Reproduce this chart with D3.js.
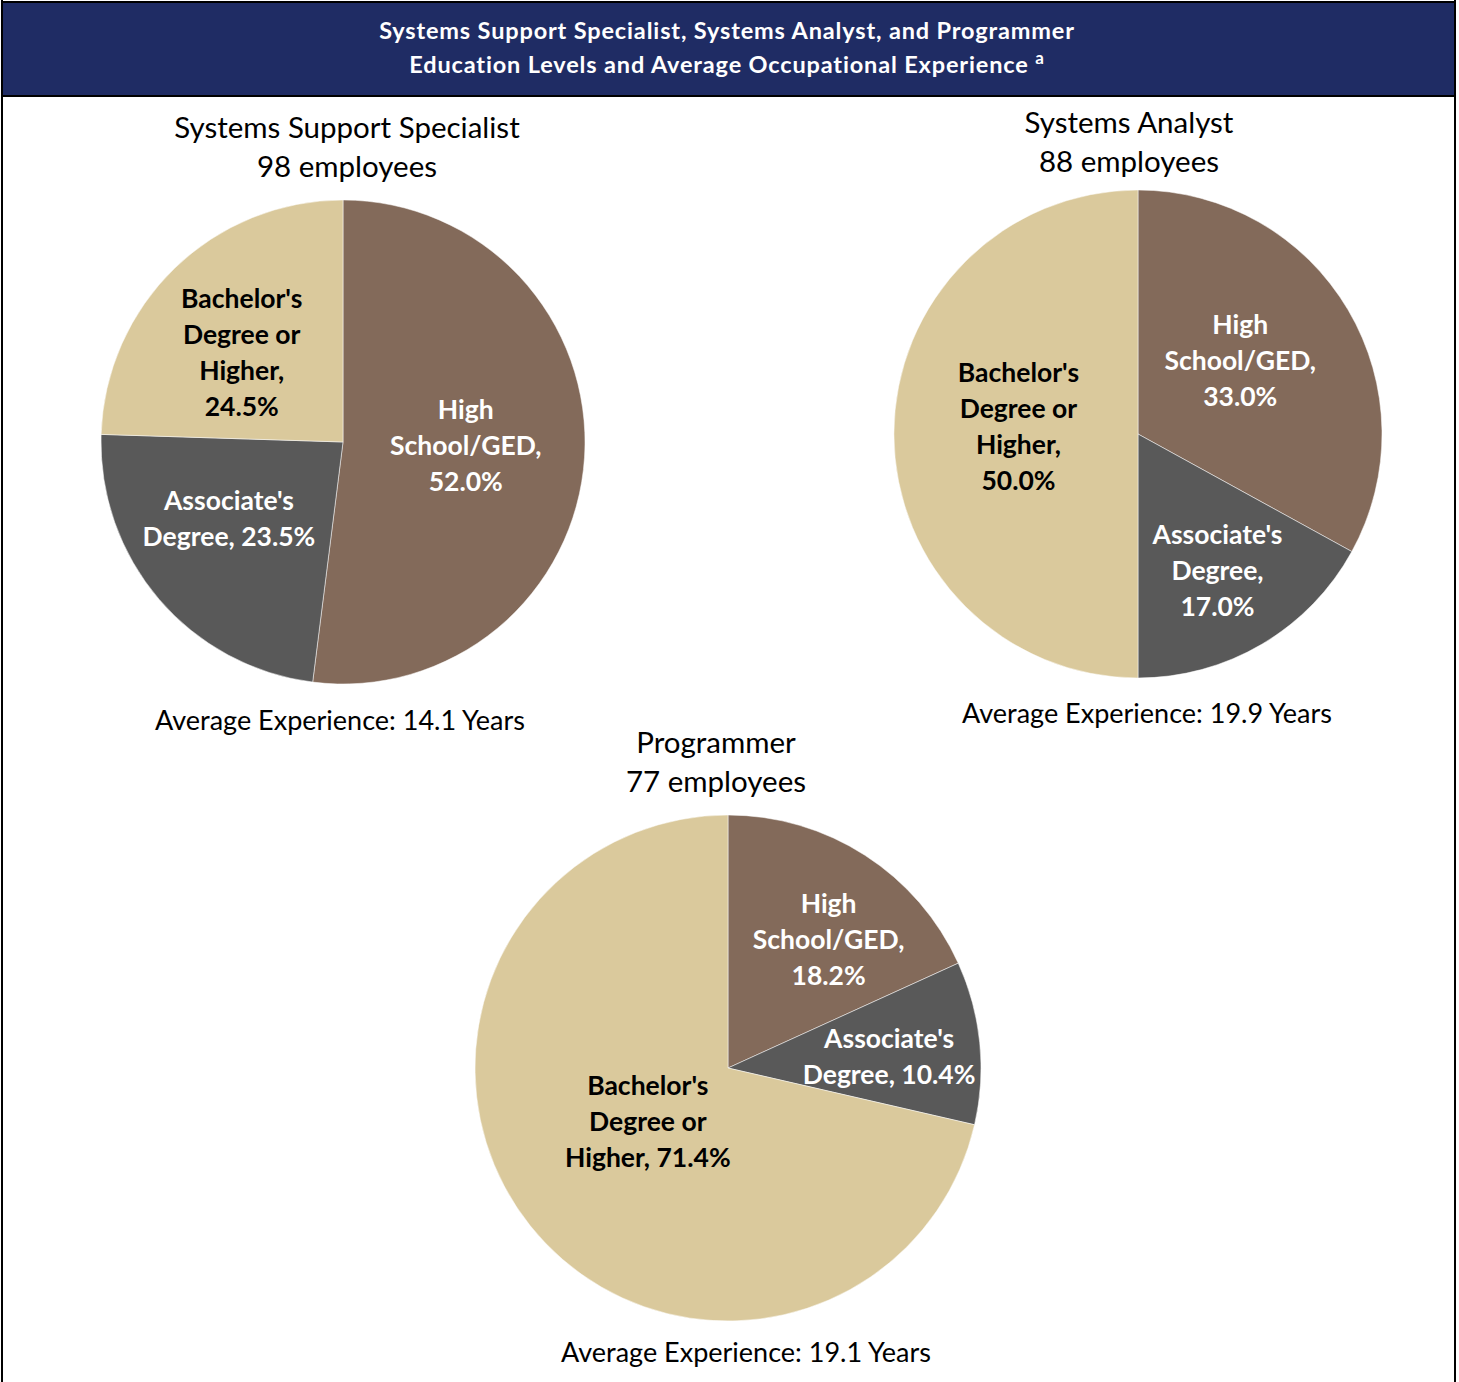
<!DOCTYPE html>
<html><head><meta charset="utf-8">
<script src="https://cdn.jsdelivr.net/npm/d3@7/dist/d3.min.js"></script>
<style>body{margin:0;background:#fff}svg{display:block}</style>
</head><body>
<svg id="chart" width="1459" height="1382"></svg>
<script>
// ---- data ----
const titleLines = ["Systems Support Specialist, Systems Analyst, and Programmer", "Education Levels and Average Occupational Experience"];
const categories = ["High School/GED", "Associate's Degree", "Bachelor's Degree or Higher"];
const occupations = ["Systems Support Specialist", "Systems Analyst", "Programmer"];
const employees = [98, 88, 77];
const avgExperience = [14.1, 19.9, 19.1];
const specialistValues = [52.0, 23.5, 24.5];
const analystValues = [33.0, 17.0, 50.0];
const programmerValues = [18.2, 10.4, 71.4];
// label text wrapping for each slice (text only)
const specialistLabels = [["High", "School/GED,", "52.0%"], ["Associate's", "Degree, 23.5%"], ["Bachelor's", "Degree or", "Higher,", "24.5%"]];
const analystLabels = [["High", "School/GED,", "33.0%"], ["Associate's", "Degree,", "17.0%"], ["Bachelor's", "Degree or", "Higher,", "50.0%"]];
const programmerLabels = [["High", "School/GED,", "18.2%"], ["Associate's", "Degree, 10.4%"], ["Bachelor's", "Degree or", "Higher, 71.4%"]];

// ---- style / layout ----
const colors = ["#836a5a", "#595959", "#dac99c"];
const textColors = ["#ffffff", "#ffffff", "#000000"];
const FONT = "Lato, 'Open Sans', sans-serif";
const layout = [
  {cx: 343, cy: 442, r: 242, titleX: 347, titleY: 128, avgX: 340, avgY: 721, labelR: [0.50, 0.56, 0.56], nudge: [[2, -4], [-11, -11], [-7, 8]]},
  {cx: 1138, cy: 434, r: 244, titleX: 1129, titleY: 123, avgX: 1147, avgY: 714, labelR: [0.52, 0.64, 0.49], nudge: [[-7, -9], [0, 2], [0, -7]]},
  {cx: 728, cy: 1068, r: 253, titleX: 716, titleY: 743, avgX: 746, avgY: 1353, labelR: [0.64, 0.64, 0.38], nudge: [[13, 8], [0, 5], [-5, -6]]}
];
const seriesValues = [specialistValues, analystValues, programmerValues];
const seriesLabels = [specialistLabels, analystLabels, programmerLabels];

const svg = d3.select("#chart");

// outer frame
svg.append("line").attr("x1", 2).attr("x2", 2).attr("y1", 0).attr("y2", 1382).attr("stroke", "#000").attr("stroke-width", 2);
svg.append("line").attr("x1", 1455).attr("x2", 1455).attr("y1", 0).attr("y2", 1382).attr("stroke", "#000").attr("stroke-width", 2);

// header
svg.append("rect").attr("x", 2).attr("y", 2).attr("width", 1453).attr("height", 94)
  .attr("fill", "#1f2c64").attr("stroke", "#000").attr("stroke-width", 2);
const hdr = svg.append("g").attr("font-family", FONT).attr("font-weight", "bold").attr("font-size", 23.5)
  .attr("letter-spacing", 0.85).attr("fill", "#fff").attr("text-anchor", "middle");
hdr.append("text").attr("x", 727).attr("y", 31).attr("dy", "0.35em").text(titleLines[0]);
const t2 = hdr.append("text").attr("x", 727).attr("y", 65).attr("dy", "0.35em");
t2.append("tspan").text(titleLines[1] + " ");
t2.append("tspan").attr("font-size", 17).attr("dy", "-0.55em").text("a");

const pie = d3.pie().sort(null).value(d => d);

seriesValues.forEach((vals, i) => {
  const L = layout[i];
  const g = svg.append("g").attr("transform", `translate(${L.cx},${L.cy})`);
  const arc = d3.arc().innerRadius(0).outerRadius(L.r);
  const arcs = pie(vals);
  g.selectAll("path").data(arcs).join("path")
    .attr("d", arc).attr("fill", (d, j) => colors[j])
    .attr("stroke", "#ffffff").attr("stroke-width", 0.5);

  // labels
  arcs.forEach((d, j) => {
    const lr = L.r * L.labelR[j];
    const a = (d.startAngle + d.endAngle) / 2;
    const x = Math.sin(a) * lr + L.nudge[j][0], y = -Math.cos(a) * lr + L.nudge[j][1];
    const lines = seriesLabels[i][j];
    const lh = 36;
    const t = g.append("text").attr("text-anchor", "middle").attr("font-family", FONT)
      .attr("font-weight", "bold").attr("font-size", 26.5).attr("fill", textColors[j]);
    lines.forEach((ln, k) => {
      t.append("tspan").attr("x", x).attr("y", y + (k - (lines.length - 1) / 2) * lh).attr("dy", "0.35em").text(ln);
    });
  });

  // titles
  const tt = svg.append("text").attr("text-anchor", "middle").attr("font-family", FONT).attr("font-size", 29.5).attr("fill", "#000");
  tt.append("tspan").attr("x", L.titleX).attr("y", L.titleY).attr("dy", "0.35em").text(occupations[i]);
  tt.append("tspan").attr("x", L.titleX).attr("y", L.titleY + 39).attr("dy", "0.35em").text(employees[i] + " employees");

  svg.append("text").attr("text-anchor", "middle").attr("font-family", FONT).attr("font-size", 27).attr("fill", "#000")
    .attr("x", L.avgX).attr("y", L.avgY).attr("dy", "0.35em").text(`Average Experience: ${avgExperience[i].toFixed(1)} Years`);
});
</script>
</body></html>
